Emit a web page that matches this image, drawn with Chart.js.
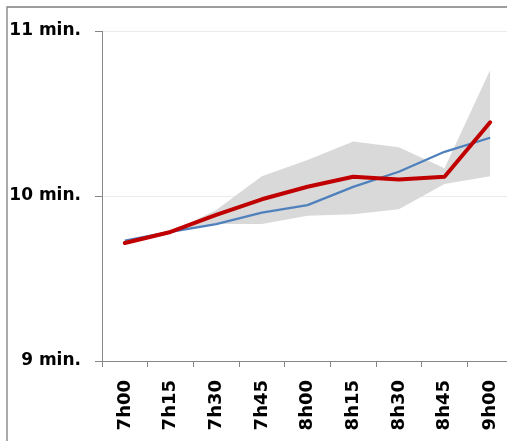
<!DOCTYPE html>
<html>
<head>
<meta charset="utf-8">
<script src="https://cdn.jsdelivr.net/npm/chart.js@4/dist/chart.umd.min.js"></script>
<style>
  html, body { margin:0; padding:0; background:#fff; overflow:hidden; }
  #wrap { position:relative; width:507px; height:441px; overflow:hidden; }
  canvas { position:absolute; left:0; top:0; }
</style>
</head>
<body>
<div id="wrap"><canvas id="c" width="530" height="441"></canvas></div>
<script>
const TIMES  = ['7h00','7h15','7h30','7h45','8h00','8h15','8h30','8h45','9h00']
const ACTUAL = [9.715, 9.782, 9.885, 9.98, 10.056, 10.117, 10.10, 10.117, 10.447]
const TREND  = [9.729, 9.782, 9.83, 9.899, 9.945, 10.055, 10.147, 10.268, 10.353]
const HIGH   = [9.73, 9.782, 9.915, 10.12, 10.218, 10.33, 10.295, 10.168, 10.764]
const LOW    = [9.715, 9.782, 9.83, 9.83, 9.88, 9.89, 9.92, 10.073, 10.12]
const Y_TICKS = [9, 10, 11]

const axisGrey = '#868686'
const font = { family:'DejaVu Sans', weight:'bold' }

// outer frame round the whole chart
const frame = {
  id:'frame',
  beforeDraw(chart) {
    const ctx = chart.ctx
    ctx.save()
    ctx.strokeStyle = '#7f7f7f'
    ctx.lineWidth = 1.3
    ctx.beginPath()
    ctx.moveTo(7, 460); ctx.lineTo(7, 7); ctx.lineTo(560, 7)
    ctx.stroke()
    ctx.restore()
  }
}

new Chart(document.getElementById('c'), {
  type:'line',
  data:{
    labels:TIMES,
    datasets:[
      {data:ACTUAL, borderColor:'#c00000', borderWidth:4, pointRadius:0, tension:0,
       borderCapStyle:'round', borderJoinStyle:'round', fill:false},
      {data:TREND, borderColor:'#4f81bd', borderWidth:2.3, pointRadius:0, tension:0,
       borderJoinStyle:'round', fill:false},
      {data:HIGH, borderWidth:0, pointRadius:0, tension:0, fill:'+1', backgroundColor:'#d9d9d9'},
      {data:LOW,  borderWidth:0, pointRadius:0, tension:0, fill:false},
    ]
  },
  options:{
    responsive:false, animation:false,
    layout:{ padding:{ top:31, right:17, left:0, bottom:0 } },
    plugins:{ legend:{display:false}, tooltip:{enabled:false} },
    scales:{
      x:{
        offset:true,
        grid:{ offset:true, drawOnChartArea:false, tickLength:6, tickColor:axisGrey, lineWidth:1 },
        border:{ color:axisGrey, width:1 },
        ticks:{ color:'#000', font:{...font, size:18}, minRotation:90, maxRotation:90, padding:13 },
        afterFit(s){ s.height = 80 }
      },
      y:{
        min:9, max:11,
        afterBuildTicks(s){ s.ticks = Y_TICKS.map(v => ({value:v})) },
        grid:{ color:'#ebebeb', tickColor:axisGrey, tickLength:7, lineWidth:1 },
        border:{ color:axisGrey, width:1 },
        ticks:{ color:'#000', font:{...font, size:17}, padding:14, callback:v => v + ' min.' },
        afterFit(s){ s.width = 102 }
      }
    }
  },
  plugins:[frame]
})
</script>
</body>
</html>
